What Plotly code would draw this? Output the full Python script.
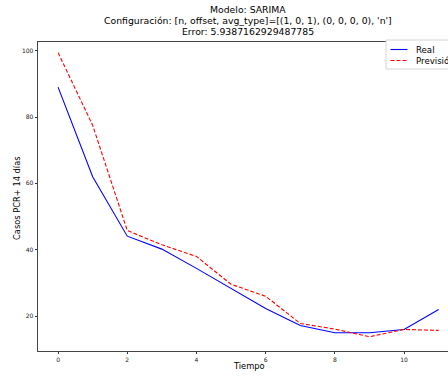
import plotly.graph_objects as go

tiempo = [0, 1, 2, 3, 4, 5, 6, 7, 8, 9, 10, 11]
real = [89, 62, 44.1, 40.2, 34.4, 28.3, 22.3, 17.2, 15.0, 15.0, 16.0, 22.0]
prevision = [99.4, 77.5, 45.8, 41.5, 38.0, 29.6, 26.0, 17.8, 16.1, 13.8, 16.0, 15.7]
x_ticks = [0, 2, 4, 6, 8, 10]
y_ticks = [20, 40, 60, 80, 100]
series_names = ["Real", "Previsión"]
series_colors = ["blue", "red"]
series_dash = ["solid", "4px,2px"]
title_lines = [
    "Modelo: SARIMA",
    "Configuración: [n, offset, avg_type]=[(1, 0, 1), (0, 0, 0, 0), 'n']",
    "Error: 5.9387162929487785",
]

FONT = "DejaVu Sans"
W, H = 448, 376
L, T, B, R = 38, 42, 25, 0
plot_w = W - L - R
plot_h = H - T - B

fig = go.Figure()
for name, ys, col, dash in zip(series_names, [real, prevision], series_colors, series_dash):
    fig.add_trace(go.Scatter(x=tiempo, y=ys, mode="lines", name=name, showlegend=False,
                             line=dict(color=col, width=1.1, dash=dash)))

def px(xpx):
    return (xpx - L) / plot_w

def py(ypx):
    return 1 + (T - ypx) / plot_h

ann = []
for i, t in enumerate(title_lines):
    ann.append(dict(text=t, x=px(248), y=py(10 + 10.5 * i), xref="paper", yref="paper",
                    xanchor="center", yanchor="middle", showarrow=False,
                    font=dict(family=FONT, size=9.3, color="black")))
ann.append(dict(text="Tiempo", x=px(248.5), y=py(366.5), xref="paper", yref="paper",
                xanchor="center", yanchor="middle", showarrow=False,
                font=dict(family=FONT, size=8.3, color="black")))
ann.append(dict(text="Casos PCR+ 14 días", x=px(17), y=py(198), xref="paper", yref="paper",
                xanchor="center", yanchor="middle", showarrow=False, textangle=-90,
                font=dict(family=FONT, size=8.3, color="black")))

# legend (drawn manually to match the compact matplotlib legend)
shapes = [dict(type="rect", xref="paper", yref="paper", x0=px(386), x1=px(460),
               y0=py(69), y1=py(40), line=dict(color="#d6d6d6", width=1), fillcolor="white",
               layer="above")]
for i, (name, col, dash) in enumerate(zip(series_names, series_colors, series_dash)):
    yy = py(49.5 + 11 * i)
    shapes.append(dict(type="line", xref="paper", yref="paper", x0=px(390.5), x1=px(407.5),
                       y0=yy, y1=yy, line=dict(color=col, width=1.1, dash=dash), layer="above"))
    ann.append(dict(text=name, x=px(414), y=yy, xref="paper", yref="paper",
                    xanchor="left", yanchor="middle", showarrow=False,
                    font=dict(family=FONT, size=8.6, color="black")))

fig.update_layout(
    width=W, height=H,
    margin=dict(l=L, r=R, t=T, b=B, pad=0),
    plot_bgcolor="white", paper_bgcolor="white",
    font=dict(family=FONT, color="black"),
    annotations=ann, shapes=shapes,
    showlegend=False,
)
fig.update_xaxes(range=[-0.58, 11.27], tickvals=x_ticks, ticks="outside", ticklen=2.5,
                 tickwidth=0.8, tickcolor="#333", showline=True, linecolor="#444",
                 linewidth=0.8, mirror=True, showgrid=False, zeroline=False,
                 tickfont=dict(family=FONT, size=6, color="#222"))
fig.update_yaxes(range=[9.5, 102.6], tickvals=y_ticks, ticks="outside", ticklen=2.5,
                 tickwidth=0.8, tickcolor="#333", showline=True, linecolor="#444",
                 linewidth=0.8, mirror=False, showgrid=False, zeroline=False,
                 tickfont=dict(family=FONT, size=6, color="#222"))

fig.write_html("out.html", config={"displayModeBar": False},
               post_script="document.body.style.margin='0';document.body.style.overflow='hidden';")
